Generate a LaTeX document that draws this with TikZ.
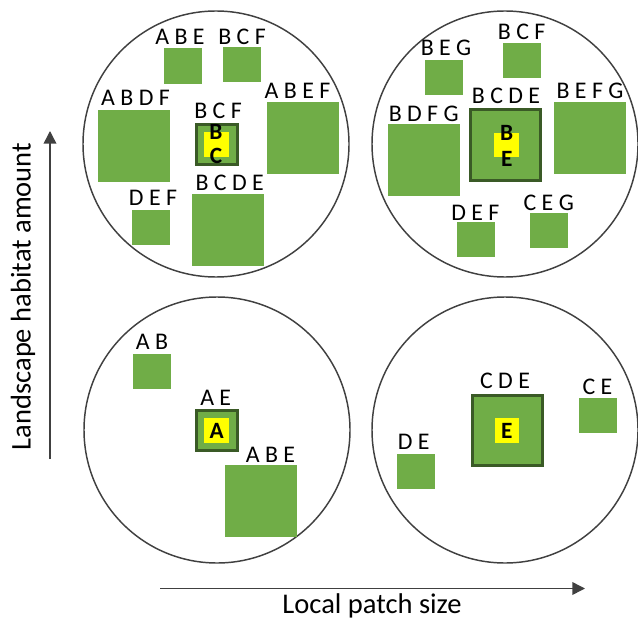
\documentclass[tikz,border=0pt]{standalone}
\usepackage{fontspec}
\setmainfont{Carlito}
\usetikzlibrary{arrows.meta}

\definecolor{patchgreen}{HTML}{70AD47}
\definecolor{patchedge}{HTML}{3A5A26}
\definecolor{focalyellow}{HTML}{FFFF00}
\definecolor{ink}{HTML}{404040}

\tikzset{
  region/.style={circle, draw=ink, line width=1.1pt, inner sep=0pt, minimum size=199.5pt},
  patch/.style={fill=patchgreen, inner sep=0pt, outer sep=0pt},
  focalpatch/.style={patch, draw=patchedge, line width=2.2pt},
  core/.style={fill=focalyellow, inner sep=0pt, outer sep=0pt},
  lab/.style={inner sep=0pt, font=\fontsize{17.9}{21}\selectfont},
  sp/.style={inner sep=0pt, font=\bfseries\fontsize{17.5}{20}\selectfont},
  axis/.style={draw=ink, line width=1.1pt, -{Triangle[length=9.5pt,width=9.5pt]}},
  axislab/.style={inner sep=0pt, font=\fontsize{21.4}{25}\selectfont}
}

% rectangular patch given by its corners (x1,y1) and (x2,y2)
\newcommand\patchbox[6]{%
  \node[#1, minimum width={(#5-#3)*0.75pt}, minimum height={(#6-#4)*0.75pt}]
    (#2) at ({(#3+#5)/2},{(#4+#6)/2}) {};}

\begin{document}
\begin{tikzpicture}[x=0.75pt,y=-0.75pt]
\useasboundingbox (0,0) rectangle (638,620);

% landscapes
\node[region] (tl) at (216,144) {};
\node[region] (tr) at (505,144) {};
\node[region] (bl) at (217,430) {};
\node[region] (br) at (505,430) {};

% ---- small patch, high habitat amount
\patchbox{patch}{tl-abe}{164}{48}{202}{83.7}
\patchbox{patch}{tl-bcf}{223}{47}{261}{81.7}
\patchbox{patch}{tl-abdf}{98}{110}{170}{182}
\patchbox{focalpatch}{tl-focal}{196.2}{124.8}{237.2}{164.5}
\patchbox{core}{tl-core}{204.3}{132.3}{229}{156.7}
\patchbox{patch}{tl-abef}{267}{102}{339}{173.7}
\patchbox{patch}{tl-def}{132}{210}{170}{244.7}
\patchbox{patch}{tl-bcde}{192}{194}{264}{265.7}

\node[lab] (tl-abe-l) at (180,36.7) {A B E};
\node[lab] (tl-bcf-l) at (242,36.7) {B C F};
\node[lab] (tl-abdf-l) at (135.5,98) {A B D F};
\node[lab] (tl-abef-l) at (297.5,90.8) {A B E F};
\node[lab] (tl-focal-l) at (218,110.6) {B C F};
\node[lab] (tl-def-l) at (153,198.3) {D E F};
\node[lab] (tl-bcde-l) at (229.7,183) {B C D E};
\node[sp] (tl-sp1) at (216,132.4) {B};
\node[sp] (tl-sp2) at (216,156) {C};

% ---- large patch, high habitat amount
\patchbox{patch}{tr-bcf}{503}{43}{541}{77.7}
\patchbox{patch}{tr-beg}{425}{60}{463}{94.7}
\patchbox{focalpatch}{tr-focal}{470.2}{109.2}{540.5}{180.2}
\patchbox{core}{tr-core}{494.3}{132.7}{519}{156.7}
\patchbox{patch}{tr-bdfg}{388}{124}{460}{196}
\patchbox{patch}{tr-befg}{554}{102}{626}{173.7}
\patchbox{patch}{tr-def}{457}{222}{495}{256.7}
\patchbox{patch}{tr-ceg}{530}{213}{568}{247.7}

\node[lab] (tr-bcf-l) at (521.7,32.2) {B C F};
\node[lab] (tr-beg-l) at (446,48.3) {B E G};
\node[lab] (tr-focal-l) at (506,96) {B C D E};
\node[lab] (tr-bdfg-l) at (423.7,114.3) {B D F G};
\node[lab] (tr-befg-l) at (590,91) {B E F G};
\node[lab] (tr-def-l) at (475.3,212.8) {D E F};
\node[lab] (tr-ceg-l) at (548.7,202.5) {C E G};
\node[sp] (tr-sp1) at (506.7,132.7) {B};
\node[sp] (tr-sp2) at (506.7,158.7) {E};

% ---- small patch, low habitat amount
\patchbox{patch}{bl-ab}{133}{354}{171}{388.7}
\patchbox{focalpatch}{bl-focal}{196.2}{410.2}{237.2}{450.2}
\patchbox{core}{bl-core}{204.3}{418}{229}{442.7}
\patchbox{patch}{bl-abe}{225}{465}{297}{536.7}

\node[lab] (bl-ab-l) at (152,341.8) {A B};
\node[lab] (bl-focal-l) at (215.7,397.5) {A E};
\node[lab] (bl-abe-l) at (270.5,454.5) {A B E};
\node[sp] (bl-sp) at (216.7,430.7) {A};

% ---- large patch, low habitat amount
\patchbox{focalpatch}{br-focal}{472.2}{395.2}{542.2}{465.5}
\patchbox{core}{br-core}{494.7}{418}{519}{442.7}
\patchbox{patch}{br-ce}{579}{398}{617}{433}
\patchbox{patch}{br-de}{397}{454}{435}{489}

\node[lab] (br-focal-l) at (505,381.2) {C D E};
\node[lab] (br-ce-l) at (597.5,386.8) {C E};
\node[lab] (br-de-l) at (413.7,442) {D E};
\node[sp] (br-sp) at (506.7,430.5) {E};

% axes
\coordinate (yfrom) at (50,459);
\coordinate (yto) at (50,131);
\coordinate (xfrom) at (160,588.5);
\coordinate (xto) at (585,588.5);
\draw[axis] (yfrom) -- (yto);
\draw[axis] (xfrom) -- (xto);
\node[axislab, rotate=90] (ylab) at (23,296.5) {Landscape habitat amount};
\node[axislab, anchor=base] (xlab) at (372,613.3) {Local patch size};
\end{tikzpicture}
\end{document}
